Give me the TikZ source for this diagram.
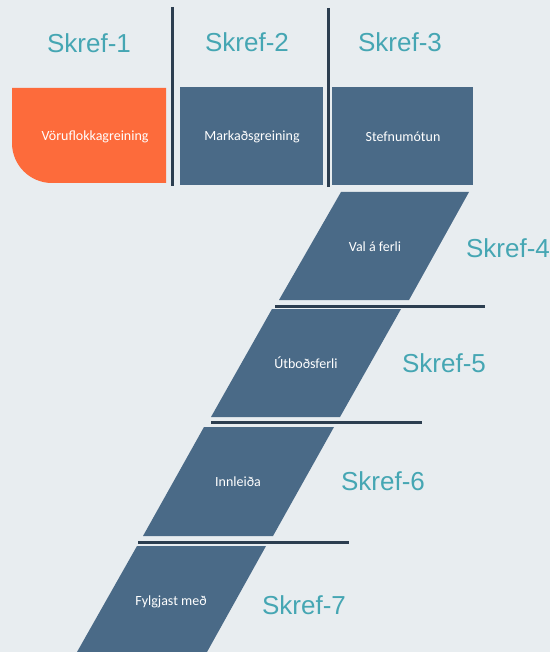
\documentclass[tikz,border=0pt]{standalone}
\usepackage{fontspec}
\setmainfont{Liberation Sans}
\newfontfamily\boxfont{Carlito}
\definecolor{bg}{HTML}{E8EDF0}
\definecolor{boxc}{HTML}{4A6A87}
\definecolor{orangec}{HTML}{FD6B3B}
\definecolor{linec}{HTML}{2C3E50}
\definecolor{teal}{HTML}{45A6B3}
\begin{document}
\begin{tikzpicture}[x=1pt,y=-1pt,
  steplabel/.style={text=teal,font=\fontsize{26}{28}\selectfont,inner sep=0pt},
  boxtext/.style={text=white,font=\boxfont\fontsize{14}{16}\selectfont,inner sep=0pt},
  sepline/.style={draw=linec,line width=3pt},
  boxfill/.style={fill=boxc}]
\fill[bg] (0,0) rectangle (550,652);
\useasboundingbox (0,0) rectangle (550,652);
% top row boxes
\fill[orangec] (12,88) -- (166,88) -- (166,183) -- (52,183) .. controls (29.9,183) and (12,165.1) .. (12,143) -- cycle;
\fill[boxfill] (180,87) rectangle (323,185);
\fill[boxfill] (332,87) rectangle (473,185);
% vertical separators
\coordinate (v1t) at (172,7); \coordinate (v1b) at (172,186);
\coordinate (v2t) at (328,8); \coordinate (v2b) at (328,187);
\draw[sepline] (v1t) -- (v1b);
\draw[sepline] (v2t) -- (v2b);
% parallelograms
\fill[boxfill] (341,192) -- (469,192) -- (409,300) -- (279,300) -- cycle;
\fill[boxfill] (272,309) -- (401,309) -- (340,417) -- (211,417) -- cycle;
\fill[boxfill] (204,427) -- (334,427) -- (273,536) -- (143,536) -- cycle;
\fill[boxfill] (137,546) -- (266,546) -- (207,652) -- (77,652) -- cycle;
% horizontal separators
\coordinate (h1a) at (275,306); \coordinate (h1b) at (485,306);
\coordinate (h2a) at (211,422); \coordinate (h2b) at (422,422);
\coordinate (h3a) at (138,542); \coordinate (h3b) at (349,542);
\draw[sepline] (h1a) -- (h1b);
\draw[sepline] (h2a) -- (h2b);
\draw[sepline] (h3a) -- (h3b);
% box texts
\node[boxtext] (b1) at (95,137) {Vöruflokkagreining};
\node[boxtext] (b2) at (252,137) {Markaðsgreining};
\node[boxtext] (b3) at (403,137) {Stefnumótun};
\node[boxtext] (b4) at (375,247) {Val á ferli};
\node[boxtext] (b5) at (306,363) {Útboðsferli};
\node[boxtext] (b6) at (238,482) {Innleiða};
\node[boxtext] (b7) at (171,602) {Fylgjast með};
% step labels
\node[steplabel] (s1) at (89,43) {Skref-1};
\node[steplabel] (s2) at (247,42) {Skref-2};
\node[steplabel] (s3) at (400,42) {Skref-3};
\node[steplabel] (s4) at (508,248) {Skref-4};
\node[steplabel] (s5) at (444,363) {Skref-5};
\node[steplabel] (s6) at (383,481) {Skref-6};
\node[steplabel] (s7) at (304,605) {Skref-7};
\end{tikzpicture}
\end{document}
